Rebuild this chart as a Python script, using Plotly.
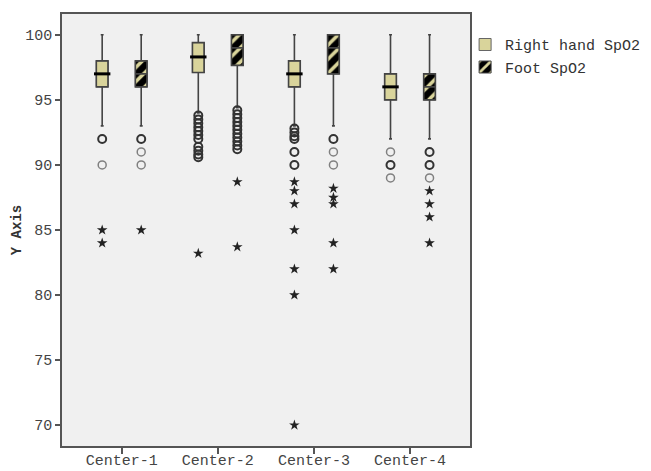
import plotly.graph_objects as go

centers = ["Center-1", "Center-2", "Center-3", "Center-4"]

# Right hand SpO2 box statistics
rh_lo = [93, 94.0, 93, 92]
rh_q1 = [96, 97.1, 96, 95]
rh_med = [97, 98.3, 97, 96]
rh_q3 = [98, 99.4, 98, 97]
rh_hi = [100, 100, 100, 100]

# Foot SpO2 box statistics
ft_lo = [93, 94.4, 93, 92]
ft_q1 = [96, 97.65, 97, 95]
ft_med = [97, 99, 99, 96]
ft_q3 = [98, 100, 100, 97]
ft_hi = [100, 100, 100, 100]

# Outliers (dark = repeated values, light = single values, star = extremes)
rh_circ_dark = [[92], [93.8, 93.5, 93.2, 92.9, 92.6, 92.3, 92.0, 91.4, 91.1, 90.8, 90.6],
                [92.8, 92.5, 92.2, 92, 91, 90], [90]]
rh_circ_light = [[90], [], [], [91, 89]]
rh_star = [[85, 84], [83.2], [88.7, 88, 87, 85, 82, 80, 70], []]

ft_circ_dark = [[92], [94.2, 93.9, 93.6, 93.3, 93.0, 92.7, 92.4, 92.1, 91.8, 91.5, 91.2],
                [92], [91, 90]]
ft_circ_light = [[91, 90], [], [91, 90], [89]]
ft_star = [[85], [88.7, 83.7], [88.2, 87.5, 87, 84, 82], [88, 87, 86, 84]]

KHAKI = "#d9d49b"
OFF = 0.203
BW = 0.122

fig = go.Figure()

def pos(i, side):
    return i + 1 + side * OFF

series = [
    ("Right hand SpO2", -1, rh_lo, rh_q1, rh_med, rh_q3, rh_hi, rh_circ_dark, rh_circ_light, rh_star,
     dict(color=KHAKI, line=dict(color="#666", width=1)), True),
    ("Foot SpO2", 1, ft_lo, ft_q1, ft_med, ft_q3, ft_hi, ft_circ_dark, ft_circ_light, ft_star,
     dict(color="black", line=dict(color="#444", width=1),
          pattern=dict(shape="/", bgcolor="black", fgcolor=KHAKI, size=10, solidity=0.35, fillmode="replace")),
     False),
]

# fills (bars) first
for name, side, lo, q1, med, q3, hi, cd, cl, st, mk, showmed in series:
    xs = [pos(i, side) for i in range(len(centers))]
    fig.add_trace(go.Bar(x=xs, base=q1, y=[b - a for a, b in zip(q1, q3)], width=BW,
                         marker=mk, name=name, showlegend=True))

for name, side, lo, q1, med, q3, hi, cd, cl, st, mk, showmed in series:
    xs = [pos(i, side) for i in range(len(centers))]
    fig.add_trace(go.Box(x=xs, q1=q1, median=med, q3=q3, lowerfence=lo, upperfence=hi,
                         width=BW, whiskerwidth=0.25, fillcolor="rgba(0,0,0,0)",
                         line=dict(color="#444", width=1.6), boxpoints=False,
                         showlegend=False, hoverinfo="skip"))
    if showmed:
        fig.add_trace(go.Scatter(x=xs, y=med, mode="markers", showlegend=False, hoverinfo="skip",
                                 marker=dict(symbol="line-ew", size=BW * 96,
                                             line=dict(color="black", width=3))))
    # outliers
    for arr, style in ((cl, "light"), (cd, "dark"), (st, "star")):
        px, py = [], []
        for i, vals in enumerate(arr):
            for v in vals:
                px.append(pos(i, side))
                py.append(v)
        if style == "light":
            m = dict(symbol="circle-open", size=8, color="#808080", line=dict(width=1.5, color="#808080"))
        elif style == "dark":
            m = dict(symbol="circle-open", size=8, color="#333", line=dict(width=2, color="#333"))
        else:
            m = dict(symbol="star", size=8, color="#222", line=dict(width=0))
        fig.add_trace(go.Scatter(x=px, y=py, mode="markers", marker=m, showlegend=False, hoverinfo="skip"))

FONT = "Liberation Mono, Courier New, monospace"

# page body has an 8px default margin, so the figure is sized to end at the window edge
fig.update_layout(
    width=643, height=463,
    margin=dict(l=54, r=181, t=6, b=25, autoexpand=False),
    paper_bgcolor="white", plot_bgcolor="#f0f0f0",
    font=dict(family=FONT, size=15, color="#444"),
    barmode="overlay",
    legend=dict(x=0.988, y=0.967, xanchor="left", yanchor="top", bgcolor="rgba(0,0,0,0)",
                font=dict(family=FONT, size=15, color="#333"), tracegroupgap=0),
    xaxis=dict(range=[0.379, 4.624], tickvals=[1, 2, 3, 4], ticktext=centers, showgrid=False,
               zeroline=False, showline=True, mirror=True, linecolor="#555", linewidth=1.5,
               ticks="outside", ticklen=6, tickwidth=1.5, tickcolor="#555", automargin=False,
               tickfont=dict(size=15), ticklabelstandoff=-7),
    yaxis=dict(range=[68.4, 101.6], tickvals=[70, 75, 80, 85, 90, 95, 100], showgrid=False,
               zeroline=False, showline=True, mirror=True, linecolor="#555", linewidth=1.5,
               ticks="outside", ticklen=5, tickwidth=1.5, tickcolor="#555", automargin=False,
               title=dict(text="<b>Y Axis</b>", font=dict(family=FONT, size=14, color="#333"), standoff=0)),
)

fig.write_html("out.html")
